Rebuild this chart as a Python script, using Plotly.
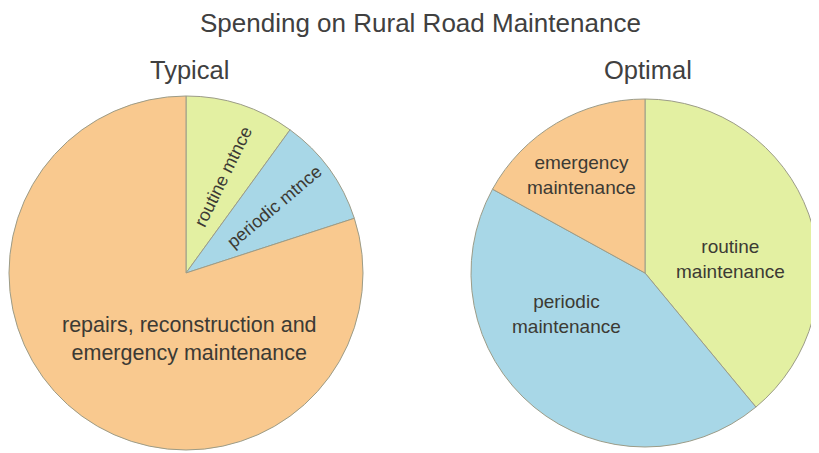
import plotly.graph_objects as go

# Data
typical_labels = ["routine mtnce", "periodic mtnce", "repairs, reconstruction and emergency maintenance"]
typical_values = [10, 10, 80]
optimal_labels = ["routine maintenance", "periodic maintenance", "emergency maintenance"]
optimal_values = [39, 44, 17]

title_text = "Spending on Rural Road Maintenance"
subtitles = ["Typical", "Optimal"]

OFF = 8  # page body margin in the browser
W, H = 819 - OFF, 453 - OFF  # keep the figure inside the window (no scrollbars)
ORANGE = "#F9C98F"
GREEN = "#E3F0A2"
BLUE = "#A8D7E7"
EDGE = "#9C9C88"
FONT = "Liberation Sans, Arial, sans-serif"
TXT = "#3c3a34"


def dom(cx, cy, r):
    cx, cy = cx - OFF, cy - OFF
    return dict(x=[max(0, (cx - r) / W), min(1, (cx + r) / W)],
                y=[max(0, (H - cy - r) / H), min(1, (H - cy + r) / H)])


fig = go.Figure()
fig.add_trace(go.Pie(
    labels=typical_labels, values=typical_values, sort=False,
    direction="clockwise", rotation=0, textinfo="none",
    marker=dict(colors=[GREEN, BLUE, ORANGE], line=dict(color=EDGE, width=1)),
    domain=dom(186, 273, 177),
    hoverinfo="label+percent",
))
fig.add_trace(go.Pie(
    labels=optimal_labels, values=optimal_values, sort=False,
    direction="clockwise", rotation=0, textinfo="none",
    marker=dict(colors=[GREEN, BLUE, ORANGE], line=dict(color=EDGE, width=1)),
    domain=dom(645, 273, 174),
    hoverinfo="label+percent",
))


def ann(text, x, y, size, angle=0, color=TXT):
    x, y = x - OFF, y - OFF
    return dict(text=text, x=x / W, y=1 - y / H, xref="paper", yref="paper",
                xanchor="center", yanchor="middle", showarrow=False,
                textangle=angle, font=dict(family=FONT, size=size, color=color))


annotations = [
    ann(title_text, 420, 23, 26, color="#404040"),
    ann(subtitles[0], 189, 70, 25.5, color="#404040"),
    ann(subtitles[1], 648, 70, 25.5, color="#404040"),
    ann(typical_labels[0], 223, 177, 18, angle=-64),
    ann(typical_labels[1], 274, 207, 18, angle=-40),
    ann("repairs, reconstruction and<br>emergency maintenance", 189, 339, 21.5),
    ann("routine<br>maintenance", 730, 259, 19),
    ann("periodic<br>maintenance", 566, 314, 19),
    ann("emergency<br>maintenance", 581, 175, 19),
]

fig.update_layout(
    width=W, height=H, margin=dict(l=0, r=0, t=0, b=0),
    paper_bgcolor="white", plot_bgcolor="white", showlegend=False,
    annotations=annotations,
)

fig.write_html("out.html")
